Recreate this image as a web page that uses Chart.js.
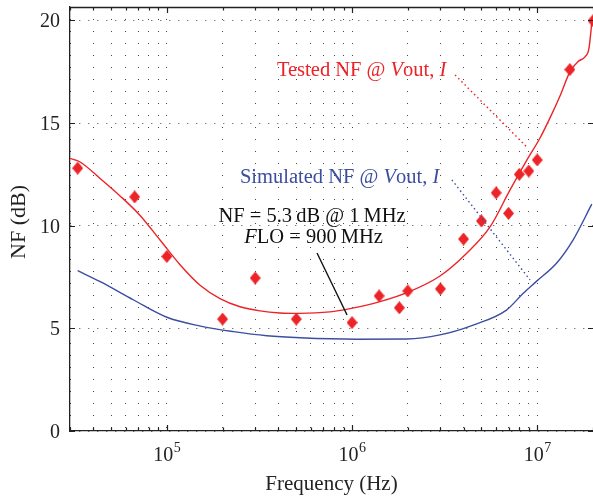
<!DOCTYPE html>
<html>
<head>
<meta charset="utf-8">
<script src="https://cdn.jsdelivr.net/npm/chart.js@4.4.0/dist/chart.umd.min.js"></script>
<style>
  html, body { margin: 0; padding: 0; background: #fff; }
  #wrap { width: 593px; height: 498px; }
</style>
</head>
<body>
<div id="wrap"><canvas id="nfChart"></canvas></div>
<script>
// measured NF (diamonds)
const measFreq = [3.3e4, 6.7e4, 1e5, 2e5, 3e5, 5e5, 1e6, 1.4e6, 1.8e6, 2e6, 3e6, 4e6, 5e6, 6e6, 7e6, 8e6, 9e6, 1e7, 1.5e7, 2e7];
const measNF   = [12.8, 11.4, 8.5, 5.45, 7.45, 5.45, 5.28, 6.58, 6.0, 6.82, 6.92, 9.35, 10.23, 11.6, 10.6, 12.5, 12.66, 13.2, 17.6, 19.98];

// red fitted curve through the measurement
const fitFreq = [3e4, 3.4e4, 4.36e4, 5.59e4, 7.17e4, 9.19e4, 1.178e5, 1.511e5, 1.937e5, 2.484e5, 3.185e5, 4.08e5, 5.24e5, 7.6e5, 9.75e5, 1.416e6, 2.056e6, 2.985e6, 4.16e6, 5.56e6, 7.13e6, 8.8e6, 1.035e7, 1.172e7, 1.327e7, 1.503e7, 1.661e7, 1.811e7, 1.903e7, 1.976e7];
const fitNF   = [13.28, 13.1, 12.3, 11.45, 10.5, 9.3, 8.1, 7.1, 6.45, 6.05, 5.85, 5.75, 5.73, 5.8, 5.96, 6.3, 6.8, 7.55, 8.66, 9.94, 11.74, 13.2, 14.27, 15.25, 16.32, 17.5, 18.0, 18.22, 18.65, 20];

// simulated NF (blue)
const simFreq = [3.3e4, 4.37e4, 6.62e4, 1e5, 1.52e5, 2.29e5, 3.47e5, 5.25e5, 1.06e6, 1.97e6, 2.98e6, 4.51e6, 6.82e6, 8.38e6, 9.93e6, 1.27e7, 1.56e7, 1.97e7];
const simNF   = [7.81, 7.27, 6.38, 5.54, 5.11, 4.84, 4.64, 4.54, 4.47, 4.48, 4.68, 5.16, 5.89, 6.7, 7.3, 8.17, 9.3, 11.05];

const yTicks = [0, 5, 10, 15, 20];
const xMajors = [1e5, 1e6, 1e7];

const RED = '#ec2327';
const BLUE = '#3b4ea0';
const SERIF = '"Liberation Serif", "Times New Roman", serif';

// text notes and leader lines, placed in data units
const notes = [
  { parts: [{ t: 'Tested NF @ ' }, { t: 'V', it: true }, { t: 'out, ' }, { t: 'I', it: true }], x: 3.93e5, y: 17.29, align: 'left', color: RED },
  { parts: [{ t: 'Simulated NF @ ' }, { t: 'V', it: true }, { t: 'out, ' }, { t: 'I', it: true }], x: 2.48e5, y: 12.07, align: 'left', color: BLUE },
  { parts: [{ t: 'NF = 5.3\u2009dB @ 1\u2009MHz' }], x: 6.08e5, y: 10.2, align: 'center', color: '#111' },
  { parts: [{ t: 'F', it: true }, { t: 'LO = 900\u2009MHz' }], x: 6.2e5, y: 9.14, align: 'center', color: '#111' }
];
const leaders = [
  { from: [3.6e6, 17.34], to: [8.9e6, 13.78], color: RED, dash: [1.5, 3] },
  { from: [3.46e6, 12.23], to: [9.14e6, 7.36], color: BLUE, dash: [1.5, 3] },
  { from: [6.47e5, 8.67], to: [9.4e5, 5.65], color: '#111', dash: [] }
];

function pts(xs, ys) { return xs.map((x, i) => ({ x: x, y: ys[i] })); }

function diamond(w, h, color) {
  const c = document.createElement('canvas');
  c.width = w; c.height = h;
  const g = c.getContext('2d');
  g.fillStyle = color;
  g.beginPath();
  g.moveTo(w / 2, 0); g.lineTo(w, h / 2); g.lineTo(w / 2, h); g.lineTo(0, h / 2);
  g.closePath(); g.fill();
  return c;
}

function richText(ctx, parts, x, y, align, size, color) {
  const fontOf = p => (p.it ? 'italic ' : '') + size + 'px ' + SERIF;
  let w = 0;
  parts.forEach(p => { ctx.font = fontOf(p); w += ctx.measureText(p.t).width; });
  let cx = align === 'center' ? x - w / 2 : x;
  ctx.fillStyle = color;
  ctx.textAlign = 'left';
  ctx.textBaseline = 'alphabetic';
  parts.forEach(p => { ctx.font = fontOf(p); ctx.fillText(p.t, cx, y); cx += ctx.measureText(p.t).width; });
}

const decor = {
  id: 'decor',
  afterDraw(chart) {
    const ctx = chart.ctx, a = chart.chartArea;
    const xs = chart.scales.x, ys = chart.scales.y;
    ctx.save();

    // top border
    ctx.strokeStyle = '#222'; ctx.lineWidth = 1.3;
    ctx.beginPath(); ctx.moveTo(a.left, a.top + 0.5); ctx.lineTo(a.right, a.top + 0.5); ctx.stroke();

    // inward ticks
    ctx.lineWidth = 1.2;
    xs.ticks.forEach(t => {
      const px = Math.round(xs.getPixelForValue(t.value)) + 0.5;
      const len = xMajors.includes(t.value) ? 6 : 3.5;
      ctx.beginPath();
      ctx.moveTo(px, a.bottom); ctx.lineTo(px, a.bottom - len);
      ctx.moveTo(px, a.top); ctx.lineTo(px, a.top + len);
      ctx.stroke();
    });
    ctx.fillStyle = '#222';
    ctx.font = '20px ' + SERIF;
    ctx.textAlign = 'right'; ctx.textBaseline = 'middle';
    yTicks.forEach(v => {
      const py = Math.round(ys.getPixelForValue(v)) + 0.5;
      ctx.beginPath();
      ctx.moveTo(a.left, py); ctx.lineTo(a.left + 5, py);
      ctx.moveTo(a.right, py); ctx.lineTo(a.right - 5, py);
      ctx.stroke();
      ctx.fillText(String(v), a.left - 10, py + 1);
    });

    // x tick labels 10^n
    xMajors.forEach(v => {
      const px = xs.getPixelForValue(v);
      const exp = String(Math.round(Math.log10(v)));
      ctx.font = '20px ' + SERIF;
      const wb = ctx.measureText('10').width;
      ctx.font = '14px ' + SERIF;
      const we = ctx.measureText(exp).width;
      const left = px - (wb + we) / 2;
      ctx.textAlign = 'left'; ctx.textBaseline = 'alphabetic';
      ctx.font = '20px ' + SERIF;
      ctx.fillText('10', left, 461);
      ctx.font = '14px ' + SERIF;
      ctx.fillText(exp, left + wb + 0.5, 452);
    });

    // axis titles
    ctx.font = '21px ' + SERIF;
    ctx.textAlign = 'center'; ctx.textBaseline = 'alphabetic';
    ctx.fillText('Frequency (Hz)', (a.left + a.right) / 2, 490);
    ctx.save();
    ctx.translate(25, 222);
    ctx.rotate(-Math.PI / 2);
    ctx.font = '22px ' + SERIF;
    ctx.fillText('NF (dB)', 0, 0);
    ctx.restore();

    // leader lines
    leaders.forEach(l => {
      ctx.strokeStyle = l.color; ctx.lineWidth = 1.4;
      ctx.setLineDash(l.dash);
      ctx.beginPath();
      ctx.moveTo(xs.getPixelForValue(l.from[0]), ys.getPixelForValue(l.from[1]));
      ctx.lineTo(xs.getPixelForValue(l.to[0]), ys.getPixelForValue(l.to[1]));
      ctx.stroke();
    });
    ctx.setLineDash([]);

    notes.forEach(n => {
      richText(ctx, n.parts, xs.getPixelForValue(n.x), ys.getPixelForValue(n.y), n.align, 20.5, n.color);
    });
    ctx.restore();
  }
};

new Chart(document.getElementById('nfChart').getContext('2d'), {
  type: 'scatter',
  data: {
    datasets: [
      {
        label: 'Measured',
        data: pts(measFreq, measNF),
        pointStyle: diamond(11, 13, RED),
        pointRadius: 6,
        showLine: false,
        order: 0
      },
      {
        label: 'Tested fit',
        data: pts(fitFreq, fitNF),
        showLine: true,
        borderColor: RED,
        borderWidth: 1.4,
        pointRadius: 0,
        cubicInterpolationMode: 'monotone',
        order: 1
      },
      {
        label: 'Simulated',
        data: pts(simFreq, simNF),
        showLine: true,
        borderColor: BLUE,
        borderWidth: 1.4,
        pointRadius: 0,
        cubicInterpolationMode: 'monotone',
        order: 2
      }
    ]
  },
  options: {
    responsive: true,
    maintainAspectRatio: false,
    animation: false,
    layout: { autoPadding: false, padding: { top: 7, right: 0, left: 0, bottom: 0 } },
    plugins: { legend: { display: false }, tooltip: { enabled: false } },
    scales: {
      x: {
        type: 'logarithmic',
        min: 3e4,
        max: 2e7,
        afterBuildTicks(s) {
          const t = [];
          for (let e = 4; e <= 7; e++) {
            for (let m = 1; m <= 9; m++) {
              const v = m * Math.pow(10, e);
              if (v >= 3e4 && v <= 2e7) t.push({ value: v });
            }
          }
          s.ticks = t;
        },
        afterFit(s) { s.height = 67; },
        ticks: { display: false },
        grid: { color: '#444', lineWidth: 1, drawTicks: false },
        border: { display: true, color: '#222', width: 1.3, dash: [1, 11] }
      },
      y: {
        min: 0,
        max: 20.65,
        afterBuildTicks(s) { s.ticks = yTicks.map(v => ({ value: v })); },
        afterFit(s) { s.width = 70; },
        ticks: { display: false },
        grid: { color: '#444', lineWidth: 1, drawTicks: false },
        border: { display: true, color: '#222', width: 1.3, dash: [1, 8] }
      }
    }
  },
  plugins: [decor]
});
</script>
</body>
</html>
